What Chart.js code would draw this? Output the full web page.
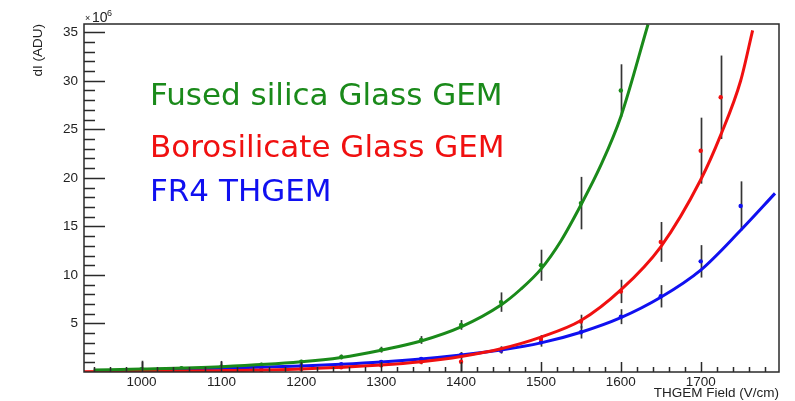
<!DOCTYPE html>
<html>
<head>
<meta charset="utf-8">
<title>dI vs THGEM Field</title>
<script src="https://cdn.jsdelivr.net/npm/chart.js@4.4.1/dist/chart.umd.min.js"></script>
<style>
  html, body { margin: 0; padding: 0; background: #fff; }
  #wrap { position: relative; width: 795px; height: 401px; }
</style>
</head>
<body>
<div id="wrap"><canvas id="gainChart" width="795" height="401"></canvas></div>
<script>
// valeurs (dI en unites de 1e6 ADU)
const xTicks = [1000, 1100, 1200, 1300, 1400, 1500, 1600, 1700];
const yTicks = [5, 10, 15, 20, 25, 30, 35];

// Fused silica Glass GEM - points mesures
const fusedX = [1000, 1050, 1100, 1150, 1200, 1250, 1300, 1350, 1400, 1450, 1500, 1550, 1600];
const fusedY = [0.3, 0.4, 0.55, 0.75, 1.05, 1.55, 2.3, 3.3, 4.85, 7.2, 11.0, 17.4, 29.0];
const fusedErr = [0.15, 0.15, 0.2, 0.2, 0.2, 0.25, 0.3, 0.4, 0.5, 1.0, 1.6, 2.7, 2.7];
// courbe d'ajustement (lue le long du trace)
const fusedFitX = [940, 1000, 1100, 1200, 1250, 1300, 1350, 1400, 1450, 1475, 1500, 1525, 1550, 1575, 1600, 1634];
const fusedFitY = [0.2, 0.3, 0.55, 1.05, 1.5, 2.25, 3.2, 4.65, 6.9, 8.55, 10.6, 13.5, 17.2, 21.3, 26.3, 35.8];

// Borosilicate Glass GEM
const boroX = [1000, 1100, 1150, 1200, 1250, 1300, 1350, 1400, 1450, 1500, 1550, 1600, 1650, 1700, 1725];
const boroY = [0.06, 0.14, 0.2, 0.32, 0.48, 0.7, 1.05, 1.05, 2.3, 3.4, 5.2, 8.3, 13.4, 22.8, 28.3];
const boroErr = [1.1, 1.0, 0.1, 0.1, 0.15, 0.2, 0.25, 1.0, 0.35, 0.4, 0.7, 1.2, 2.05, 3.4, 4.3];
const boroFitX = [928, 1000, 1100, 1200, 1300, 1350, 1400, 1450, 1500, 1550, 1600, 1650, 1700, 1725, 1750, 1765];
const boroFitY = [0.035, 0.065, 0.14, 0.32, 0.72, 1.06, 1.6, 2.4, 3.6, 5.3, 8.45, 12.9, 19.8, 24.4, 30.0, 35.2];

// FR4 THGEM
const fr4X = [1000, 1050, 1100, 1150, 1200, 1250, 1300, 1350, 1400, 1450, 1500, 1550, 1600, 1650, 1700, 1750];
const fr4Y = [0.22, 0.28, 0.36, 0.48, 0.62, 0.8, 1.03, 1.34, 1.75, 2.2, 3.06, 4.1, 5.7, 7.8, 11.4, 17.1];
const fr4Err = [0.05, 0.05, 0.06, 0.08, 0.1, 0.12, 0.15, 0.2, 0.25, 0.3, 0.45, 0.65, 0.77, 1.15, 1.67, 2.54];
const fr4FitX = [1000, 1100, 1200, 1250, 1300, 1350, 1400, 1450, 1500, 1550, 1600, 1650, 1700, 1750, 1793];
const fr4FitY = [0.22, 0.38, 0.62, 0.8, 1.03, 1.34, 1.75, 2.27, 3.0, 4.1, 5.6, 7.7, 10.5, 14.6, 18.4];

const legendLabels = ['Fused silica Glass GEM', 'Borosilicate Glass GEM', 'FR4 THGEM'];
const GREEN = '#1a8a1a';
const RED = '#f01010';
const BLUE = '#1010f0';

function toXY(xs, ys) {
    return xs.map((x, i) => ({x: x, y: ys[i]}));
}

const errorSeries = [
    {x: fusedX, y: fusedY, e: fusedErr},
    {x: boroX, y: boroY, e: boroErr},
    {x: fr4X, y: fr4Y, e: fr4Err}
];

// barres d'erreur, sous les courbes
const errorBars = {
    id: 'errorBars',
    beforeDatasetsDraw(chart) {
        const {ctx, chartArea, scales} = chart;
        ctx.save();
        ctx.beginPath();
        ctx.rect(chartArea.left, chartArea.top, chartArea.width, chartArea.height);
        ctx.clip();
        ctx.strokeStyle = '#353535';
        ctx.lineWidth = 1.7;
        errorSeries.forEach(s => {
            s.x.forEach((xv, i) => {
                const px = Math.round(scales.x.getPixelForValue(xv)) + 0.5;
                ctx.beginPath();
                ctx.moveTo(px, scales.y.getPixelForValue(s.y[i] - s.e[i]));
                ctx.lineTo(px, scales.y.getPixelForValue(s.y[i] + s.e[i]));
                ctx.stroke();
            });
        });
        ctx.restore();
    }
};

// cadre, graduations internes facon ROOT, legende
const frameAndText = {
    id: 'frameAndText',
    afterDraw(chart) {
        const {ctx, chartArea, scales} = chart;
        const a = chartArea;
        ctx.save();
        ctx.strokeStyle = '#2a2a2a';
        ctx.lineWidth = 1.5;
        ctx.strokeRect(a.left, a.top, a.width, a.height);

        // axe y : majeures tous les 5, mineures tous les 1
        ctx.beginPath();
        for (let v = 1; v <= 35; v++) {
            const py = Math.round(scales.y.getPixelForValue(v)) + 0.5;
            const len = v % 5 === 0 ? 21 : 11;
            ctx.moveTo(a.left, py);
            ctx.lineTo(a.left + len, py);
        }
        // axe x : majeures tous les 100, mineures tous les 20
        for (let v = 940; v <= 1780; v += 20) {
            const px = Math.round(scales.x.getPixelForValue(v)) + 0.5;
            const len = v % 100 === 0 ? 10 : 5;
            ctx.moveTo(px, a.bottom);
            ctx.lineTo(px, a.bottom - len);
        }
        ctx.stroke();

        // facteur d'echelle
        ctx.fillStyle = '#222';
        ctx.textBaseline = 'alphabetic';
        ctx.textAlign = 'left';
        ctx.font = '9px "Liberation Sans"';
        ctx.fillText('\u00d7', 85, 21);
        ctx.font = '14px "Liberation Sans"';
        ctx.fillText('10', 92, 22);
        ctx.font = '9px "Liberation Sans"';
        ctx.fillText('6', 107, 16);

        // textes de legende
        ctx.font = '31px "DejaVu Sans"';
        const colors = [GREEN, RED, BLUE];
        const baselines = [105, 157, 201];
        legendLabels.forEach((t, i) => {
            ctx.fillStyle = colors[i];
            ctx.fillText(t, 150, baselines[i]);
        });
        ctx.restore();
    }
};

function fitDataset(xs, ys, color) {
    return {
        data: toXY(xs, ys),
        showLine: true,
        borderColor: color,
        borderWidth: 3,
        pointRadius: 0,
        cubicInterpolationMode: 'monotone',
        fill: false,
        order: 0
    };
}

function pointDataset(xs, ys, color) {
    return {
        data: toXY(xs, ys),
        showLine: false,
        backgroundColor: color,
        borderWidth: 0,
        pointRadius: 2.2,
        order: 1
    };
}

const axisFont = {family: '"Liberation Sans", Arial, sans-serif', size: 13.5};

new Chart(document.getElementById('gainChart').getContext('2d'), {
    type: 'scatter',
    data: {
        datasets: [
            fitDataset(fusedFitX, fusedFitY, GREEN),
            fitDataset(boroFitX, boroFitY, RED),
            fitDataset(fr4FitX, fr4FitY, BLUE),
            pointDataset(fusedX, fusedY, GREEN),
            pointDataset(boroX, boroY, RED),
            pointDataset(fr4X, fr4Y, BLUE)
        ]
    },
    options: {
        responsive: false,
        animation: false,
        devicePixelRatio: 1,
        layout: {padding: {top: 24, right: 16, left: 0, bottom: 0}},
        plugins: {
            legend: {display: false},
            tooltip: {enabled: false}
        },
        scales: {
            x: {
                type: 'linear',
                min: 928,
                max: 1798,
                grid: {display: false, drawTicks: false},
                border: {display: false},
                afterBuildTicks: s => { s.ticks = xTicks.map(v => ({value: v})); },
                afterFit: s => { s.height = 29; },
                ticks: {color: '#222', font: axisFont, padding: 2, maxRotation: 0, callback: v => String(v)},
                title: {
                    display: true,
                    text: 'THGEM Field (V/cm)',
                    align: 'end',
                    color: '#222',
                    font: axisFont,
                    padding: {top: 0, bottom: 0}
                }
            },
            y: {
                type: 'linear',
                min: 0,
                max: 35.85,
                grid: {display: false, drawTicks: false},
                border: {display: false},
                afterBuildTicks: s => { s.ticks = yTicks.map(v => ({value: v})); },
                afterFit: s => { s.width = 84; },
                ticks: {color: '#222', font: axisFont, padding: 6, callback: v => String(v)},
                title: {
                    display: true,
                    text: 'dI (ADU)',
                    align: 'end',
                    color: '#222',
                    font: axisFont,
                    padding: {top: 30, bottom: 0}
                }
            }
        }
    },
    plugins: [errorBars, frameAndText]
});
</script>
</body>
</html>
